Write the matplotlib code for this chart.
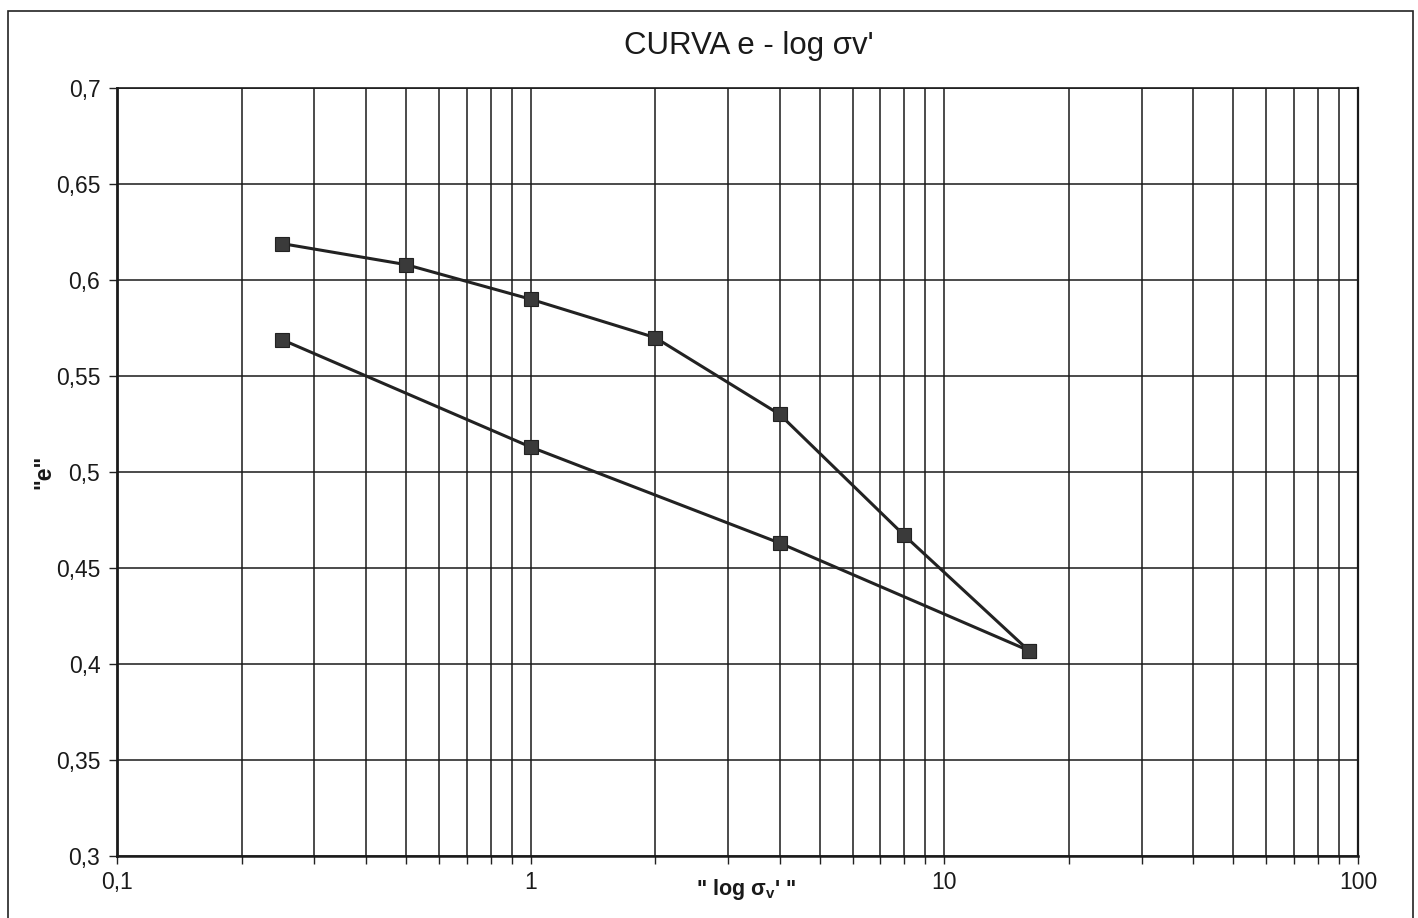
"""
e - log sigma_v' curve from an oedometer test (loading and unloading branches).
"""

import matplotlib
matplotlib.use("Agg")
import matplotlib.pyplot as plt
from matplotlib.patches import Rectangle
from matplotlib.ticker import LogLocator, FixedLocator, FuncFormatter, NullFormatter

plt.rcParams["font.family"] = ["Liberation Sans", "DejaVu Sans"]
plt.rcParams["mathtext.fontset"] = "custom"
plt.rcParams["mathtext.rm"] = "Liberation Sans"
plt.rcParams["mathtext.bf"] = "Liberation Sans:bold"

# loading branch
load_stress = [0.25, 0.5, 1, 2, 4, 8, 16]
load_e = [0.619, 0.608, 0.590, 0.570, 0.530, 0.467, 0.407]

# unloading branch
unload_stress = [16, 4, 1, 0.25]
unload_e = [0.407, 0.463, 0.513, 0.569]

y_ticks = [0.3, 0.35, 0.4, 0.45, 0.5, 0.55, 0.6, 0.65, 0.7]
x_ticks = [0.1, 1, 10, 100]

fig = plt.figure(figsize=(14.18, 9.18), dpi=100)
W, H = 1418, 918
ax = fig.add_axes([117 / W, 1 - 856 / H, (1358 - 117) / W, (856 - 88) / H])

# outer chart frame
fig.patches.append(Rectangle((8 / W, -0.05), (1413 - 8) / W, 1.05 - 11 / H,
                             transform=fig.transFigure, fill=False,
                             edgecolor="#222222", linewidth=1.2))

line_kw = dict(color="#222222", linewidth=2.2, marker="s", markersize=10.5,
               markerfacecolor="#3a3a3a", markeredgecolor="#222222",
               markeredgewidth=0.8, zorder=3)
ax.plot(load_stress, load_e, **line_kw)
ax.plot(unload_stress, unload_e, **line_kw)

ax.set_xscale("log")
ax.set_xlim(0.1, 100)
ax.set_ylim(0.3, 0.7)

ax.xaxis.set_major_locator(FixedLocator(x_ticks))
ax.xaxis.set_minor_locator(LogLocator(base=10, subs=range(2, 10)))
ax.xaxis.set_minor_formatter(NullFormatter())
ax.xaxis.set_major_formatter(FuncFormatter(lambda v, _: f"{v:g}".replace(".", ",")))
ax.yaxis.set_major_locator(FixedLocator(y_ticks))
ax.yaxis.set_major_formatter(FuncFormatter(lambda v, _: f"{v:g}".replace(".", ",")))

ax.grid(which="both", axis="x", color="#1a1a1a", linewidth=1.1)
ax.grid(which="major", axis="y", color="#1a1a1a", linewidth=1.1)
ax.set_axisbelow(True)

ax.tick_params(which="both", direction="out", length=6, width=1.0,
               color="#222222", labelsize=16.5, labelcolor="#1a1a1a")
ax.tick_params(axis="x", pad=5)
ax.tick_params(axis="y", pad=6)

for side in ("left", "bottom", "top", "right"):
    ax.spines[side].set_color("#1a1a1a")
ax.spines["left"].set_linewidth(2.0)
ax.spines["bottom"].set_linewidth(1.8)
ax.spines["top"].set_linewidth(1.2)
ax.spines["right"].set_linewidth(1.6)

fig.text(749 / W, 1 - 46 / H, "CURVA e - log σv'", fontsize=22.5,
         ha="center", va="center", color="#1a1a1a")
fig.text(746 / W, 1 - 890 / H, "\" log σ$_\\mathbf{v}$' \"", fontsize=15.5,
         fontweight="bold", ha="center", va="center", color="#1a1a1a")
fig.text(44 / W, 1 - 472 / H, '"e"', fontsize=16.5, fontweight="bold",
         rotation=90, ha="center", va="center", color="#1a1a1a")

fig.savefig("out.png", dpi=100, facecolor="white")
